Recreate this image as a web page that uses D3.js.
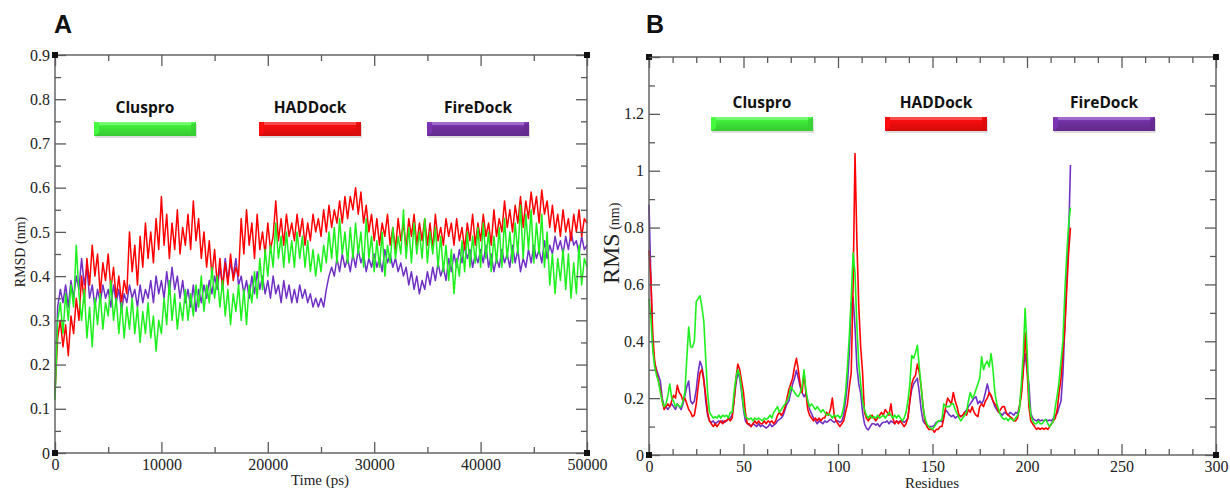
<!DOCTYPE html>
<html>
<head>
<meta charset="utf-8">
<script src="https://cdn.jsdelivr.net/npm/d3@7"></script>
<style>
body { margin:0; background:#fff; }
.tick text { font-family:"Liberation Serif", "Times New Roman", serif; font-size:16px; fill:#222; }
.axis-title { font-family:"Liberation Serif", "Times New Roman", serif; fill:#222; }
.panel-tag { font-family:"Liberation Sans", Arial, sans-serif; font-weight:bold; font-size:25px; fill:#111; }
.legend-text { font-family:"Open Sans", sans-serif; font-weight:700; font-size:15.5px; fill:#111; }
</style>
</head>
<body>
<svg id="chart" width="1230" height="490"></svg>
<script>
// ---- panel A : RMSD vs time (one sample every 250 ps) ----
var timeStep = 250;
var rmsdHaddock = [
0.14,0.26,0.30,0.24,0.29,0.22,0.31,0.27,0.35,0.30,
0.40,0.34,0.44,0.38,0.47,0.40,0.45,0.36,0.43,0.39,
0.45,0.37,0.42,0.35,0.40,0.34,0.39,0.36,0.50,0.41,
0.47,0.38,0.49,0.42,0.52,0.44,0.50,0.43,0.53,0.46,
0.58,0.47,0.54,0.44,0.52,0.46,0.55,0.45,0.51,0.47,
0.54,0.46,0.57,0.48,0.53,0.44,0.50,0.42,0.48,0.40,
0.46,0.38,0.44,0.37,0.43,0.38,0.45,0.39,0.42,0.40,
0.53,0.45,0.55,0.47,0.52,0.44,0.54,0.46,0.50,0.45,
0.52,0.46,0.49,0.57,0.48,0.53,0.47,0.54,0.49,0.52,
0.48,0.54,0.49,0.53,0.47,0.52,0.48,0.54,0.50,0.53,
0.49,0.55,0.50,0.56,0.51,0.55,0.52,0.57,0.52,0.58,
0.53,0.58,0.55,0.60,0.54,0.59,0.52,0.56,0.50,0.54,
0.48,0.53,0.47,0.52,0.49,0.54,0.47,0.51,0.46,0.53,
0.48,0.52,0.46,0.53,0.49,0.54,0.47,0.52,0.48,0.53,
0.47,0.52,0.46,0.54,0.48,0.51,0.47,0.53,0.49,0.52,
0.47,0.53,0.48,0.51,0.46,0.52,0.48,0.54,0.47,0.52,
0.48,0.54,0.49,0.52,0.47,0.55,0.49,0.53,0.50,0.57,
0.51,0.55,0.50,0.56,0.52,0.58,0.51,0.57,0.53,0.59,
0.54,0.58,0.52,0.595,0.54,0.57,0.51,0.56,0.50,0.54,
0.49,0.55,0.50,0.53,0.48,0.54,0.50,0.55,0.49,0.53,
0.52];
var rmsdCluspro = [
0.12,0.30,0.34,0.27,0.36,0.30,0.38,0.33,0.47,0.36,
0.30,0.37,0.26,0.33,0.24,0.35,0.29,0.36,0.28,0.34,
0.31,0.39,0.30,0.35,0.27,0.34,0.26,0.33,0.28,0.35,
0.27,0.33,0.25,0.32,0.27,0.34,0.26,0.31,0.23,0.30,
0.27,0.35,0.29,0.39,0.30,0.36,0.28,0.34,0.30,0.37,
0.30,0.36,0.31,0.38,0.33,0.40,0.32,0.38,0.34,0.42,
0.35,0.40,0.33,0.39,0.31,0.37,0.29,0.36,0.32,0.38,
0.30,0.37,0.29,0.38,0.34,0.41,0.35,0.44,0.37,0.46,
0.40,0.47,0.42,0.52,0.44,0.49,0.42,0.50,0.43,0.48,
0.42,0.50,0.44,0.49,0.42,0.48,0.41,0.46,0.40,0.45,
0.41,0.47,0.43,0.50,0.44,0.51,0.43,0.53,0.45,0.50,
0.43,0.51,0.44,0.52,0.45,0.50,0.42,0.53,0.44,0.49,
0.41,0.48,0.42,0.50,0.40,0.47,0.43,0.51,0.44,0.49,
0.45,0.55,0.44,0.51,0.43,0.52,0.45,0.50,0.44,0.53,
0.43,0.50,0.45,0.51,0.42,0.49,0.41,0.47,0.39,0.46,
0.36,0.44,0.40,0.48,0.41,0.50,0.42,0.49,0.43,0.51,
0.42,0.52,0.44,0.50,0.41,0.49,0.43,0.51,0.42,0.53,
0.44,0.50,0.43,0.52,0.45,0.56,0.44,0.54,0.46,0.55,
0.43,0.52,0.45,0.54,0.42,0.50,0.38,0.45,0.36,0.44,
0.39,0.46,0.37,0.45,0.35,0.43,0.36,0.47,0.38,0.44,
0.42];
var rmsdFiredock = [
0.13,0.33,0.37,0.34,0.38,0.33,0.39,0.35,0.40,0.37,
0.44,0.38,0.42,0.35,0.38,0.33,0.37,0.34,0.38,0.35,
0.37,0.33,0.38,0.34,0.37,0.32,0.36,0.34,0.38,0.35,
0.37,0.33,0.38,0.34,0.37,0.35,0.39,0.34,0.40,0.36,
0.39,0.35,0.41,0.36,0.42,0.37,0.40,0.35,0.39,0.34,
0.37,0.33,0.38,0.32,0.37,0.34,0.38,0.35,0.39,0.36,
0.40,0.37,0.42,0.38,0.44,0.39,0.43,0.40,0.44,0.38,
0.40,0.36,0.39,0.35,0.40,0.36,0.41,0.37,0.40,0.36,
0.39,0.35,0.40,0.36,0.38,0.34,0.39,0.35,0.38,0.34,
0.37,0.34,0.38,0.35,0.37,0.34,0.36,0.33,0.35,0.33,
0.35,0.33,0.37,0.40,0.42,0.40,0.44,0.41,0.45,0.42,
0.44,0.41,0.45,0.42,0.46,0.43,0.45,0.41,0.44,0.42,
0.45,0.42,0.44,0.41,0.46,0.43,0.45,0.42,0.44,0.41,
0.43,0.40,0.42,0.38,0.41,0.37,0.40,0.36,0.39,0.37,
0.41,0.38,0.42,0.39,0.43,0.40,0.42,0.39,0.44,0.41,
0.45,0.42,0.46,0.43,0.47,0.44,0.46,0.42,0.45,0.43,
0.46,0.43,0.47,0.42,0.45,0.41,0.44,0.42,0.46,0.43,
0.45,0.42,0.47,0.43,0.46,0.41,0.44,0.42,0.46,0.43,
0.47,0.44,0.46,0.43,0.48,0.44,0.47,0.45,0.49,0.46,
0.48,0.45,0.49,0.46,0.50,0.47,0.48,0.45,0.49,0.46,
0.47];

// ---- panel B : RMS per residue (residue 0..223) ----
var rmsHaddock = [
0.72,0.62,0.42,0.33,0.29,0.26,0.23,0.19,0.16,0.17,
0.18,0.17,0.19,0.21,0.20,0.245,0.22,0.21,0.19,0.20,
0.18,0.16,0.15,0.135,0.14,0.18,0.24,0.29,0.30,0.26,
0.21,0.15,0.12,0.11,0.10,0.11,0.10,0.11,0.12,0.11,
0.12,0.12,0.13,0.12,0.13,0.19,0.27,0.32,0.30,0.26,
0.22,0.15,0.11,0.11,0.10,0.11,0.12,0.11,0.12,0.11,
0.11,0.12,0.11,0.12,0.115,0.12,0.11,0.12,0.14,0.15,
0.14,0.15,0.17,0.20,0.23,0.25,0.27,0.31,0.34,0.30,
0.25,0.22,0.29,0.22,0.16,0.14,0.13,0.12,0.13,0.12,
0.13,0.12,0.13,0.13,0.15,0.14,0.16,0.20,0.14,0.12,
0.11,0.10,0.11,0.12,0.15,0.18,0.24,0.29,0.60,1.06,
0.75,0.52,0.38,0.29,0.15,0.13,0.12,0.13,0.14,0.13,
0.12,0.13,0.14,0.15,0.14,0.16,0.15,0.14,0.18,0.13,
0.11,0.12,0.11,0.12,0.11,0.10,0.11,0.13,0.19,0.25,
0.27,0.28,0.32,0.29,0.24,0.17,0.12,0.10,0.09,0.09,
0.09,0.08,0.09,0.09,0.10,0.10,0.13,0.17,0.20,0.19,
0.18,0.22,0.19,0.17,0.14,0.135,0.14,0.15,0.14,0.16,
0.15,0.17,0.15,0.14,0.135,0.17,0.18,0.17,0.19,0.20,
0.22,0.21,0.19,0.18,0.17,0.15,0.16,0.17,0.17,0.15,
0.14,0.135,0.13,0.12,0.12,0.13,0.17,0.21,0.29,0.43,
0.31,0.17,0.12,0.11,0.10,0.09,0.095,0.09,0.095,0.09,
0.095,0.09,0.10,0.11,0.12,0.13,0.16,0.22,0.27,0.36,
0.44,0.58,0.71,0.80];
var rmsCluspro = [
0.55,0.48,0.37,0.31,0.28,0.26,0.22,0.19,0.17,0.18,
0.21,0.25,0.20,0.19,0.17,0.18,0.17,0.17,0.19,0.22,
0.34,0.45,0.38,0.38,0.40,0.54,0.55,0.56,0.52,0.47,
0.34,0.22,0.15,0.14,0.13,0.135,0.13,0.14,0.13,0.14,
0.135,0.14,0.13,0.15,0.15,0.22,0.27,0.30,0.28,0.23,
0.17,0.135,0.13,0.125,0.13,0.12,0.13,0.125,0.13,0.125,
0.12,0.13,0.125,0.13,0.14,0.13,0.15,0.16,0.17,0.15,
0.16,0.17,0.18,0.19,0.205,0.24,0.23,0.22,0.21,0.205,
0.22,0.24,0.30,0.23,0.19,0.17,0.18,0.17,0.16,0.17,
0.16,0.15,0.16,0.15,0.14,0.145,0.14,0.13,0.14,0.135,
0.14,0.13,0.14,0.17,0.22,0.31,0.42,0.55,0.71,0.64,
0.45,0.32,0.25,0.19,0.16,0.14,0.13,0.14,0.13,0.135,
0.13,0.14,0.13,0.135,0.14,0.13,0.14,0.15,0.14,0.13,
0.14,0.13,0.14,0.13,0.12,0.13,0.15,0.19,0.25,0.35,
0.34,0.36,0.386,0.31,0.24,0.17,0.13,0.11,0.10,0.095,
0.09,0.10,0.11,0.12,0.12,0.125,0.18,0.17,0.17,0.17,
0.18,0.18,0.16,0.145,0.13,0.12,0.13,0.14,0.15,0.19,
0.22,0.20,0.21,0.23,0.25,0.27,0.345,0.30,0.32,0.33,
0.31,0.357,0.30,0.22,0.18,0.16,0.14,0.13,0.125,0.13,
0.12,0.13,0.125,0.12,0.13,0.14,0.16,0.25,0.35,0.515,
0.38,0.20,0.14,0.12,0.11,0.11,0.12,0.11,0.11,0.12,
0.125,0.11,0.10,0.11,0.12,0.17,0.21,0.26,0.33,0.40,
0.57,0.70,0.81,0.87];
var rmsFiredock = [
0.88,0.62,0.38,0.32,0.30,0.28,0.26,0.20,0.17,0.17,
0.16,0.17,0.18,0.17,0.16,0.18,0.17,0.16,0.18,0.21,
0.24,0.26,0.19,0.18,0.19,0.23,0.29,0.33,0.31,0.27,
0.19,0.14,0.12,0.115,0.12,0.11,0.115,0.12,0.115,0.12,
0.115,0.12,0.125,0.13,0.14,0.19,0.25,0.29,0.27,0.22,
0.16,0.12,0.11,0.105,0.10,0.11,0.105,0.10,0.11,0.10,
0.105,0.10,0.095,0.10,0.11,0.10,0.105,0.11,0.12,0.125,
0.13,0.14,0.16,0.18,0.19,0.22,0.25,0.27,0.298,0.27,
0.24,0.22,0.205,0.216,0.19,0.16,0.146,0.13,0.12,0.11,
0.12,0.115,0.11,0.12,0.115,0.12,0.125,0.12,0.115,0.12,
0.12,0.115,0.12,0.14,0.19,0.25,0.36,0.53,0.555,0.45,
0.31,0.25,0.216,0.15,0.11,0.095,0.088,0.10,0.11,0.11,
0.105,0.11,0.10,0.11,0.115,0.115,0.12,0.11,0.12,0.115,
0.11,0.12,0.115,0.12,0.12,0.115,0.12,0.13,0.19,0.23,
0.25,0.26,0.27,0.22,0.16,0.12,0.11,0.105,0.10,0.10,
0.10,0.105,0.115,0.117,0.12,0.117,0.14,0.158,0.15,0.14,
0.135,0.14,0.13,0.135,0.14,0.135,0.14,0.15,0.158,0.17,
0.18,0.19,0.20,0.205,0.18,0.19,0.18,0.193,0.22,0.25,
0.22,0.205,0.19,0.17,0.16,0.15,0.146,0.14,0.15,0.146,
0.14,0.15,0.146,0.14,0.15,0.146,0.17,0.22,0.30,0.357,
0.30,0.25,0.146,0.13,0.123,0.12,0.125,0.12,0.123,0.12,
0.125,0.12,0.123,0.12,0.13,0.14,0.146,0.17,0.19,0.287,
0.45,0.62,0.76,1.02];

var seriesNames = ['Cluspro', 'HADDock', 'FireDock'];
var seriesColors = ['#1ef01e', '#ff0000', '#7030c4'];
var barColors = ['#3fe83a', '#f20d0d', '#7030a0'];

// tick labels
var ticksXA = [0, 10000, 20000, 30000, 40000, 50000];
var ticksYA = [0, 0.1, 0.2, 0.3, 0.4, 0.5, 0.6, 0.7, 0.8, 0.9];
var ticksXB = [0, 50, 100, 150, 200, 250, 300];
var ticksYB = [0, 0.2, 0.4, 0.6, 0.8, 1, 1.2];

var svg = d3.select('#chart');
var defs = svg.append('defs');
var axisColor = '#5a5a5a';

function styleAxis(g) {
    g.selectAll('.domain').attr('stroke', axisColor).attr('stroke-width', 1.4);
    g.selectAll('.tick line').attr('stroke', axisColor).attr('stroke-width', 1.3);
}

function drawFrame(x, y, xt, yt, xMinor, yMinor) {
    var l = x.range()[0], r = x.range()[1], b = y.range()[0], t = y.range()[1];
    var fmt = d3.format('~g');

    var gb = svg.append('g').attr('transform', 'translate(0,' + b + ')')
        .call(d3.axisBottom(x).tickValues(xt).tickFormat(fmt).tickSize(-11).tickSizeOuter(0).tickPadding(6));
    var gl = svg.append('g').attr('transform', 'translate(' + l + ',0)')
        .call(d3.axisLeft(y).tickValues(yt).tickFormat(fmt).tickSize(-11).tickSizeOuter(0).tickPadding(5));
    var gt = svg.append('g').attr('transform', 'translate(0,' + t + ')')
        .call(d3.axisTop(x).tickValues(xt).tickFormat('').tickSize(-11).tickSizeOuter(0));
    var gr = svg.append('g').attr('transform', 'translate(' + r + ',0)')
        .call(d3.axisRight(y).tickValues(yt).tickFormat('').tickSize(-11).tickSizeOuter(0));
    [gb, gl, gt, gr].forEach(function (g) { g.select('.domain').attr('d', null); styleAxis(g); });

    // minor ticks
    svg.append('g').attr('transform', 'translate(0,' + b + ')')
        .call(d3.axisBottom(x).tickValues(xMinor).tickFormat('').tickSize(-6)).call(styleAxis);
    svg.append('g').attr('transform', 'translate(0,' + t + ')')
        .call(d3.axisTop(x).tickValues(xMinor).tickFormat('').tickSize(-6)).call(styleAxis);
    svg.append('g').attr('transform', 'translate(' + l + ',0)')
        .call(d3.axisLeft(y).tickValues(yMinor).tickFormat('').tickSize(-6)).call(styleAxis);
    svg.append('g').attr('transform', 'translate(' + r + ',0)')
        .call(d3.axisRight(y).tickValues(yMinor).tickFormat('').tickSize(-6)).call(styleAxis);
    svg.selectAll('.domain').remove();

    svg.append('rect').attr('x', l).attr('y', t).attr('width', r - l).attr('height', b - t)
        .attr('fill', 'none').attr('stroke', axisColor).attr('stroke-width', 1.4);

    // little corner squares
    [[l, t], [l, b], [r, b], [r, t]].forEach(function (c) {
        svg.append('rect').attr('x', c[0] - 3).attr('y', c[1] - 3)
            .attr('width', 6).attr('height', 6).attr('fill', '#111');
    });
}

function drawLegend(centers, textY, barY) {
    var w = 102, h = 14;
    seriesNames.forEach(function (name, i) {
        var cx = centers[i], x0 = cx - w / 2;
        var gid = 'bar' + i + '_' + Math.round(cx);
        var grad = defs.append('linearGradient').attr('id', gid)
            .attr('x1', 0).attr('y1', 0).attr('x2', 0).attr('y2', 1);
        grad.append('stop').attr('offset', '0%').attr('stop-color', d3.color(barColors[i]).brighter(0.6));
        grad.append('stop').attr('offset', '35%').attr('stop-color', barColors[i]);
        grad.append('stop').attr('offset', '100%').attr('stop-color', d3.color(barColors[i]).darker(0.4));

        svg.append('text').attr('class', 'legend-text')
            .attr('x', cx).attr('y', textY).attr('text-anchor', 'middle').text(name);

        // soft shadow
        svg.append('rect').attr('x', x0 + 1).attr('y', barY + 2).attr('width', w).attr('height', h)
            .attr('fill', '#bbb').attr('opacity', 0.5);
        svg.append('rect').attr('x', x0).attr('y', barY).attr('width', w).attr('height', h)
            .attr('fill', 'url(#' + gid + ')');
        // bevels
        svg.append('polygon')
            .attr('points', [[x0, barY], [x0 + 5, barY + 3], [x0 + 5, barY + h - 3], [x0, barY + h]].join(' '))
            .attr('fill', d3.color(barColors[i]).brighter(0.3)).attr('opacity', 0.8);
        svg.append('polygon')
            .attr('points', [[x0 + w, barY], [x0 + w - 5, barY + 3], [x0 + w - 5, barY + h - 3], [x0 + w, barY + h]].join(' '))
            .attr('fill', d3.color(barColors[i]).darker(0.3)).attr('opacity', 0.8);
        svg.append('rect').attr('x', x0 + 5).attr('y', barY).attr('width', w - 10).attr('height', 3)
            .attr('fill', '#fff').attr('opacity', 0.25);
    });
}

// ---------- panel A ----------
var xA = d3.scaleLinear().domain([0, 50000]).range([55, 587]);
var yA = d3.scaleLinear().domain([0, 0.9]).range([453, 55]);

var lineA = d3.line()
    .x(function (d, i) { return xA(i * timeStep); })
    .y(function (d) { return yA(d); });

// draw order: FireDock, HADDock, Cluspro on top
[[rmsdFiredock, 2], [rmsdHaddock, 1], [rmsdCluspro, 0]].forEach(function (s) {
    svg.append('path').datum(s[0]).attr('d', lineA)
        .attr('fill', 'none').attr('stroke', seriesColors[s[1]])
        .attr('stroke-width', 1.5).attr('stroke-linejoin', 'round');
});

drawFrame(xA, yA, ticksXA, ticksYA, d3.range(5000, 50000, 10000), d3.range(0.05, 0.9, 0.1));

svg.append('text').attr('class', 'axis-title').attr('font-size', 14)
    .attr('transform', 'translate(25,252) rotate(-90)').attr('text-anchor', 'middle').text('RMSD (nm)');
svg.append('text').attr('class', 'axis-title').attr('font-size', 15)
    .attr('x', 320).attr('y', 485).attr('text-anchor', 'middle').text('Time (ps)');
svg.append('text').attr('class', 'panel-tag').attr('x', 54).attr('y', 33).text('A');

drawLegend([145, 310, 478], 113, 122);

// ---------- panel B ----------
var xB = d3.scaleLinear().domain([0, 300]).range([649, 1216]);
var yB = d3.scaleLinear().domain([0, 1.4]).range([455, 57]);

var lineB = d3.line()
    .x(function (d, i) { return xB(i); })
    .y(function (d) { return yB(d); });

[[rmsFiredock, 2], [rmsHaddock, 1], [rmsCluspro, 0]].forEach(function (s) {
    svg.append('path').datum(s[0]).attr('d', lineB)
        .attr('fill', 'none').attr('stroke', seriesColors[s[1]])
        .attr('stroke-width', 1.6).attr('stroke-linejoin', 'round');
});

drawFrame(xB, yB, ticksXB, ticksYB, d3.range(12.5, 300, 12.5).filter(function (v) { return v % 50 != 0; }),
    d3.range(0.1, 1.4, 0.2));
// top-most major tick at 1.4 on the y axes (no label)
svg.append('g').attr('transform', 'translate(649,0)')
    .call(d3.axisLeft(yB).tickValues([1.4]).tickFormat('').tickSize(-11)).call(styleAxis)
    .select('.domain').remove();

var rmsLabel = svg.append('text').attr('class', 'axis-title')
    .attr('transform', 'translate(619,284) rotate(-90)');
rmsLabel.append('tspan').attr('font-size', 24).text('RMS');
rmsLabel.append('tspan').attr('font-size', 14).text(' (nm)');
svg.append('text').attr('class', 'axis-title').attr('font-size', 15)
    .attr('x', 932).attr('y', 488).attr('text-anchor', 'middle').text('Residues');
svg.append('text').attr('class', 'panel-tag').attr('x', 646).attr('y', 33).text('B');

drawLegend([762, 936, 1104], 108, 117);
</script>
</body>
</html>
